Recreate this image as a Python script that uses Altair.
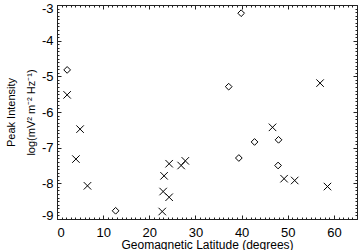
import altair as alt
import pandas as pd

# Diamonds
dia_lat = [2.2, 12.7, 39.9, 37.2, 39.4, 42.8, 48.0, 47.9]
dia_int = [-4.82, -8.77, -3.23, -5.29, -7.29, -6.84, -6.78, -7.50]
# Crosses
crs_lat = [2.2, 5.0, 4.1, 6.6, 22.8, 23.0, 24.3, 23.2, 24.3, 26.9, 27.8, 46.7, 49.2, 51.5, 58.6, 57.0]
crs_int = [-5.52, -6.48, -7.32, -8.07, -8.79, -8.23, -8.39, -7.79, -7.45, -7.50, -7.37, -6.43, -7.87, -7.92, -8.09, -5.19]

x_major = [0, 10, 20, 30, 40, 50, 60]
y_major = [-9, -8, -7, -6, -5, -4, -3]
x_minor = list(range(0, 66))
y_minor = [round(-9 + 0.1 * i, 1) for i in range(61)]

W, H = 300, 214
FONT = "Liberation Sans"

dia = pd.DataFrame({"lat": dia_lat, "val": dia_int})
crs = pd.DataFrame({"lat": crs_lat, "val": crs_int})

xs = alt.Scale(domain=[0, 65], nice=False, zero=False)
ys = alt.Scale(domain=[-9, -3], nice=False, zero=False)


def tick_axis(orient, offset, values, size):
    return alt.Axis(orient=orient, offset=offset, values=values, tickSize=size,
                    labels=False, domain=False, grid=False, title=None,
                    tickColor="#222", tickWidth=1)


base_dia = alt.Chart(dia)

l1 = base_dia.mark_point(shape="diamond", size=45, filled=False, color="black",
                         strokeWidth=1, opacity=1).encode(
    x=alt.X("lat:Q", scale=xs, axis=alt.Axis(
        orient="bottom", values=x_major, ticks=False, tickSize=0, domain=False, grid=False,
        labelPadding=7, labelFontSize=13, labelFont=FONT, labelColor="black",
        labelExpr="toString(datum.value)",
        title="Geomagnetic Latitude (degrees)", titleFont=FONT, titleFontSize=12,
        titleFontWeight="normal", titleColor="black", titlePadding=0)),
    y=alt.Y("val:Q", scale=ys, axis=alt.Axis(
        orient="left", values=y_major, ticks=False, tickSize=0, domain=False, grid=False,
        labelPadding=4, labelFontSize=13, labelFont=FONT, labelColor="black",
        labelExpr="toString(datum.value)", labelFlush=True, labelFlushOffset=3,
        title=["Peak Intensity", "log(mV² m⁻² Hz⁻¹)"], titleFont=FONT, titleFontSize=11,
        titleFontWeight="normal", titleColor="black", titleAngle=270,
        titleX=-46, titleY=107, titleAlign="center", titleBaseline="middle",
        titleLineHeight=20)),
)

l2 = alt.Chart(crs).mark_point(shape="M-1,-1L1,1M1,-1L-1,1", size=56, filled=False,
                               color="black", strokeWidth=1, opacity=1).encode(
    x=alt.X("lat:Q", scale=xs, axis=tick_axis("top", -H, x_major, 4)),
    y=alt.Y("val:Q", scale=ys, axis=tick_axis("right", -W, y_major, 4)),
)

l3 = base_dia.mark_point(opacity=0).encode(
    x=alt.X("lat:Q", scale=xs, axis=tick_axis("top", -H, x_minor, 2)),
    y=alt.Y("val:Q", scale=ys, axis=tick_axis("right", -W, y_minor, 2)),
)
l4 = base_dia.mark_point(opacity=0).encode(
    x=alt.X("lat:Q", scale=xs, axis=tick_axis("bottom", -H, x_major, 4)),
    y=alt.Y("val:Q", scale=ys, axis=tick_axis("left", -W, y_major, 4)),
)
l5 = base_dia.mark_point(opacity=0).encode(
    x=alt.X("lat:Q", scale=xs, axis=tick_axis("bottom", -H, x_minor, 2)),
    y=alt.Y("val:Q", scale=ys, axis=tick_axis("left", -W, y_minor, 2)),
)

chart = alt.layer(l1, l2, l3, l4, l5).resolve_axis(
    x="independent", y="independent"
).properties(
    width=W, height=H,
    autosize=alt.AutoSizeParams(type="none"),
    padding={"left": 57, "top": 5, "right": 6, "bottom": 31},
    background="white",
).configure_view(stroke="#222", strokeWidth=1)

chart.save("out.html", embed_options={"renderer": "svg", "actions": False})
